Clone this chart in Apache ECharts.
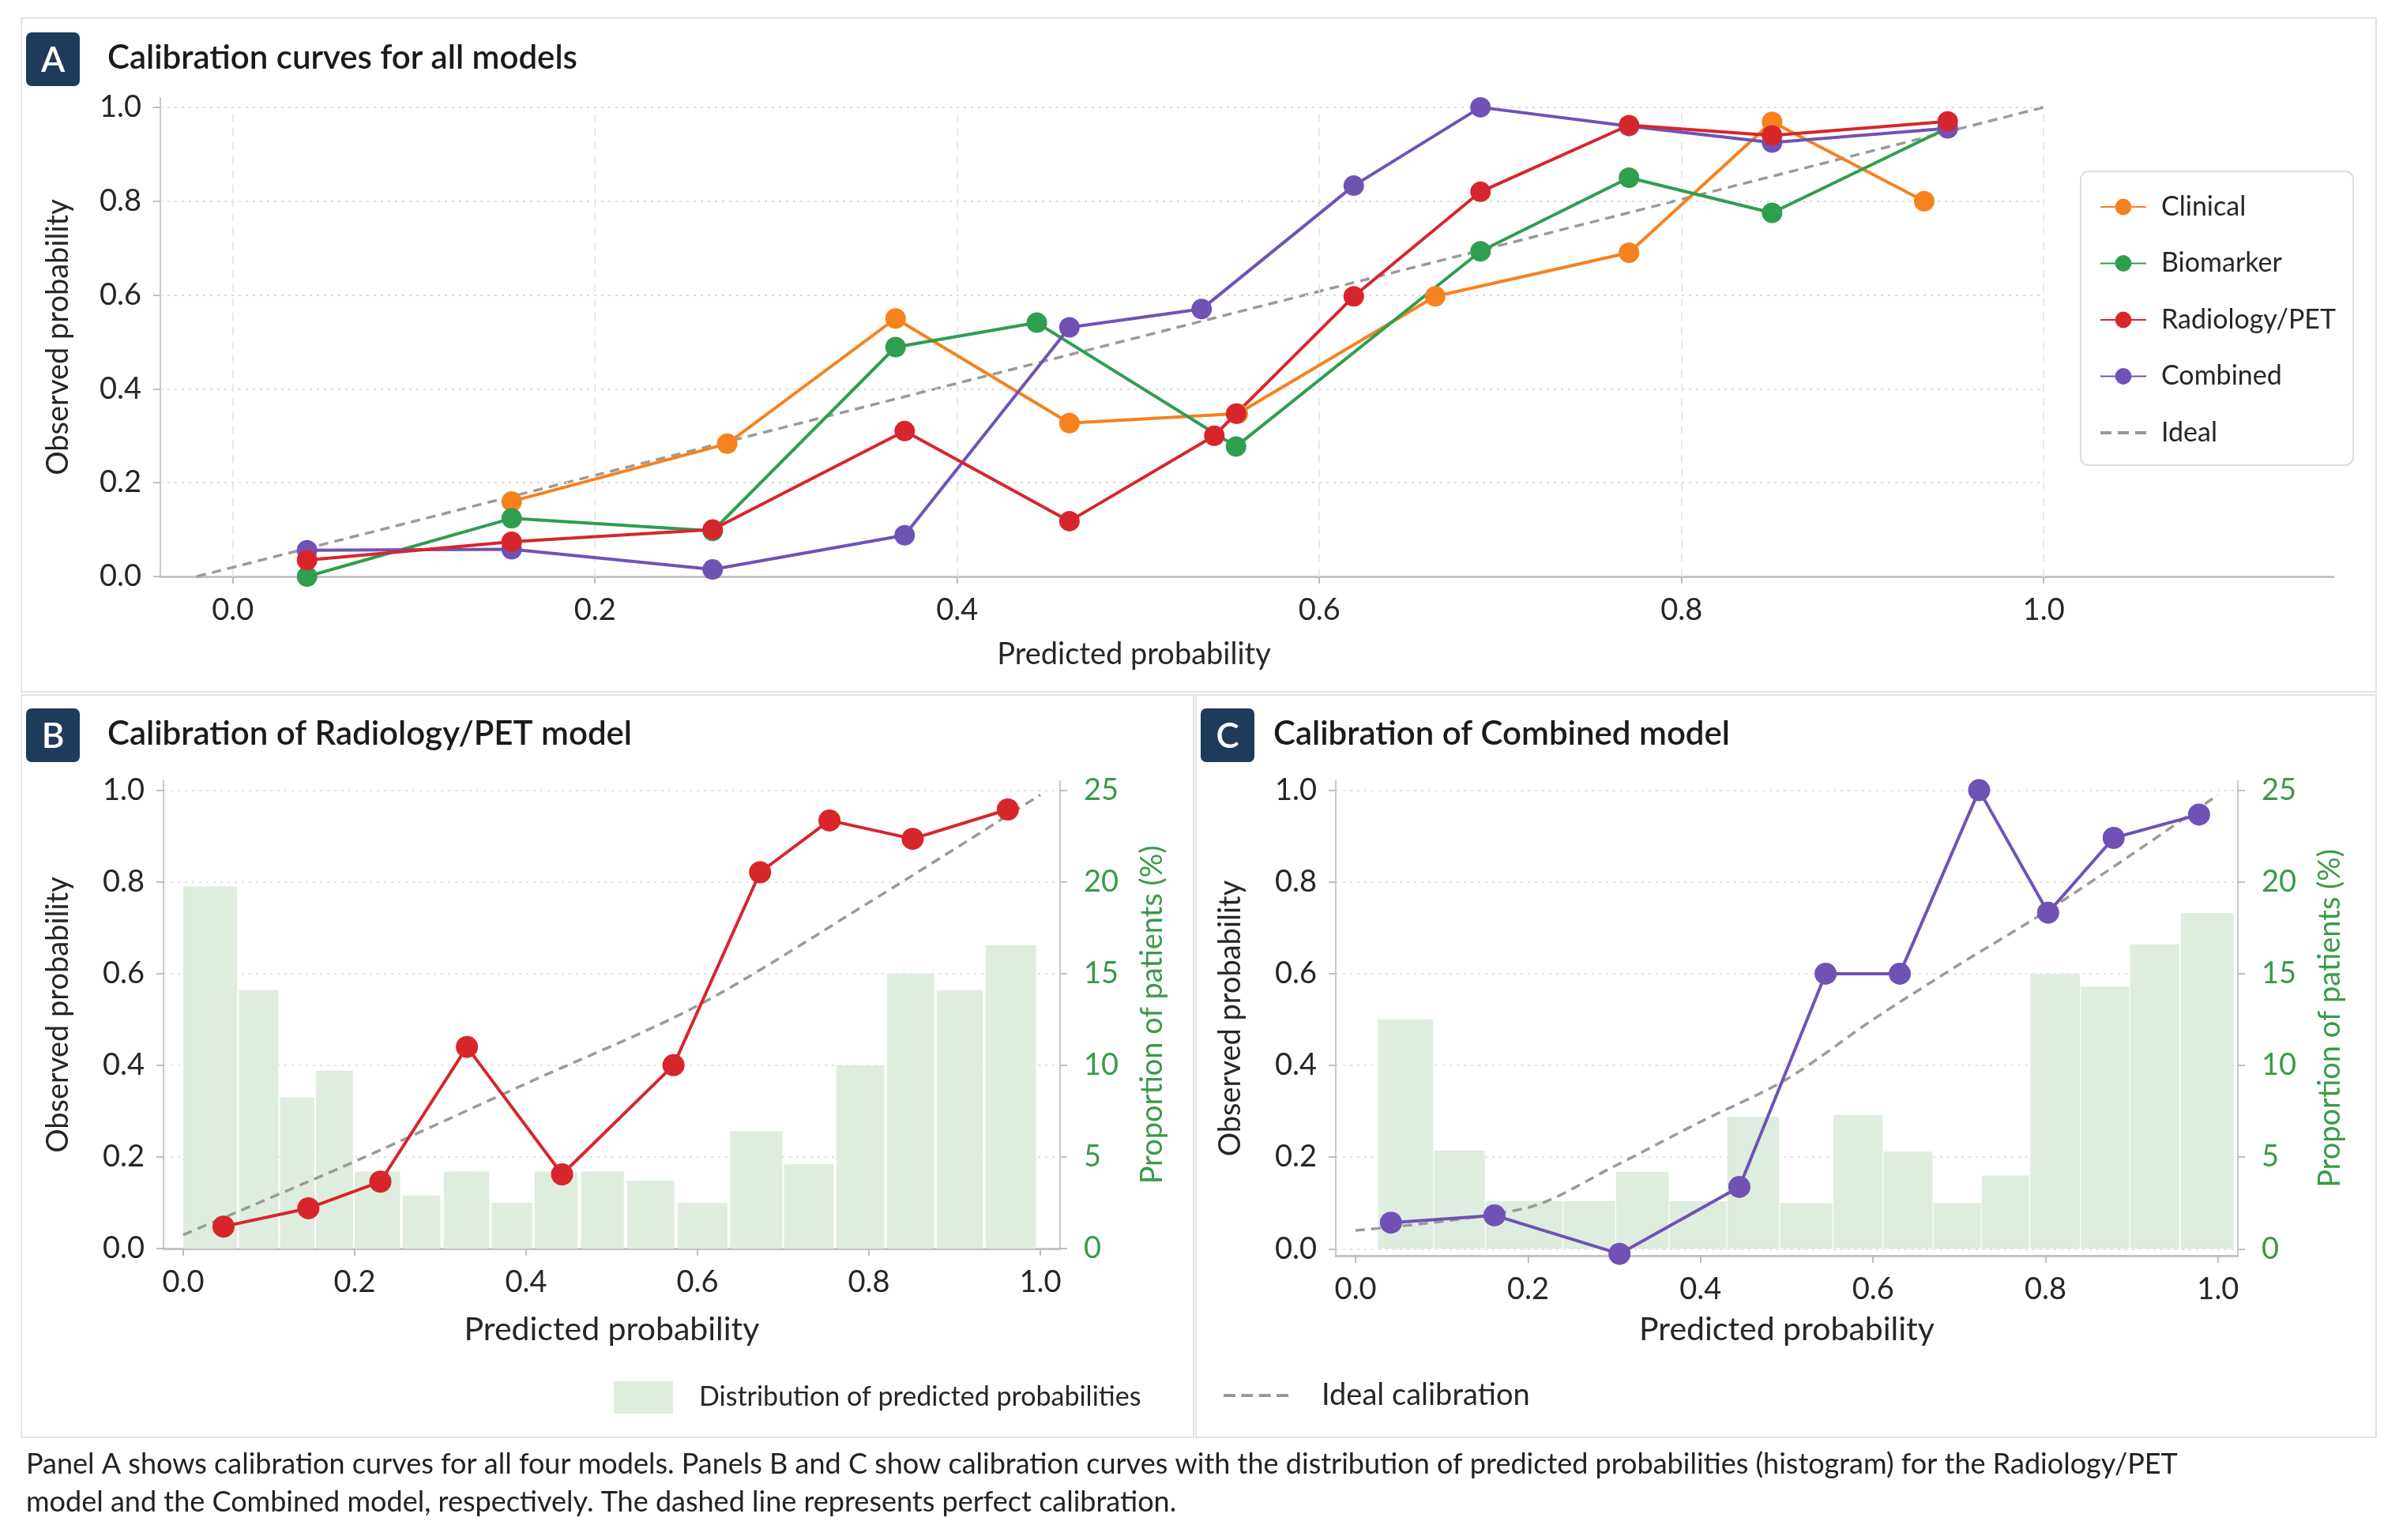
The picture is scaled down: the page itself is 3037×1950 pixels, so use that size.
<!DOCTYPE html>
<html>
<head>
<meta charset="utf-8">
<title>Calibration curves</title>
<script src="https://cdn.jsdelivr.net/npm/echarts@6.0.0/dist/echarts.min.js"></script>
<style>
  html, body { margin: 0; padding: 0; background: #fff; }
  #chart { width: 3037px; height: 1950px; }
</style>
</head>
<body>
<div id="chart"></div>
<script>
// tick labels
const xTicks = [0, 0.2, 0.4, 0.6, 0.8, 1.0];
const yTicks = [0, 0.2, 0.4, 0.6, 0.8, 1.0];
const pctTicks = [0, 5, 10, 15, 20, 25];

// panel A - all models
const clinicalX = [0.154, 0.273, 0.366, 0.462, 0.555, 0.664, 0.771, 0.850, 0.934];
const clinicalY = [0.160, 0.283, 0.550, 0.327, 0.347, 0.597, 0.690, 0.969, 0.800];
const biomarkerX = [0.041, 0.154, 0.265, 0.366, 0.444, 0.554, 0.689, 0.771, 0.850, 0.947];
const biomarkerY = [0.000, 0.124, 0.097, 0.489, 0.541, 0.277, 0.693, 0.850, 0.775, 0.956];
const radiologyX = [0.041, 0.154, 0.265, 0.371, 0.462, 0.542, 0.554, 0.619, 0.689, 0.771, 0.850, 0.947];
const radiologyY = [0.035, 0.074, 0.100, 0.310, 0.118, 0.300, 0.347, 0.597, 0.820, 0.962, 0.940, 0.970];
const combinedX = [0.041, 0.154, 0.265, 0.371, 0.462, 0.535, 0.619, 0.689, 0.771, 0.850, 0.947];
const combinedY = [0.056, 0.058, 0.015, 0.088, 0.531, 0.570, 0.833, 1.000, 0.960, 0.925, 0.955];
const idealAX = [-0.02, 1.0];
const idealAY = [0.0, 1.0];

// panel B - Radiology/PET
const radBX = [0.047, 0.146, 0.230, 0.331, 0.442, 0.572, 0.673, 0.754, 0.851, 0.962];
const radBY = [0.048, 0.088, 0.146, 0.440, 0.162, 0.400, 0.821, 0.934, 0.894, 0.958];
const idealBX = [0.0, 0.2, 0.4, 0.6, 0.8, 1.0];
const idealBY = [0.03, 0.19, 0.36, 0.53, 0.755, 0.99];
const binLeftB = [0.0, 0.065, 0.113, 0.155, 0.200, 0.256, 0.304, 0.360, 0.410, 0.464, 0.518, 0.577, 0.638, 0.701, 0.762, 0.821, 0.879, 0.936];
const binRightB = [0.063, 0.111, 0.153, 0.198, 0.253, 0.300, 0.357, 0.407, 0.460, 0.514, 0.573, 0.635, 0.699, 0.759, 0.818, 0.876, 0.933, 0.995];
const histB = [19.75, 14.1, 8.25, 9.7, 4.2, 2.9, 4.2, 2.5, 4.2, 4.2, 3.7, 2.5, 6.4, 4.6, 10.0, 15.0, 14.1, 16.55];

// panel C - Combined
const comCX = [0.041, 0.161, 0.306, 0.445, 0.545, 0.631, 0.723, 0.803, 0.879, 0.978];
const comCY = [0.057, 0.073, -0.011, 0.135, 0.600, 0.600, 1.000, 0.733, 0.896, 0.947];
const idealCX = [0.0, 0.2, 0.3, 0.4, 0.5, 0.6, 0.7, 0.8, 0.9, 1.0];
const idealCY = [0.04, 0.09, 0.18, 0.277, 0.37, 0.50, 0.62, 0.735, 0.86, 0.99];
const binLeftC = [0.026, 0.091, 0.151, 0.241, 0.302, 0.364, 0.431, 0.492, 0.554, 0.612, 0.670, 0.726, 0.782, 0.841, 0.898, 0.957];
const binRightC = [0.090, 0.150, 0.240, 0.301, 0.363, 0.430, 0.491, 0.553, 0.611, 0.669, 0.725, 0.781, 0.840, 0.897, 0.955, 1.018];
const histC = [12.5, 5.35, 2.6, 2.6, 4.2, 2.6, 7.2, 2.5, 7.3, 5.3, 2.5, 4.0, 15.0, 14.3, 16.6, 18.3];

const FONT = 'Lato, "Noto Sans", sans-serif';
const TXT = '#262626';
const GREEN_TXT = '#3a9a48';
const C_ORANGE = '#F5821F', C_GREEN = '#2E9E4F', C_RED = '#D7262B', C_PURPLE = '#7052B5';
const HIST = '#dfeddf';
const IDEAL = '#9a9a9a';
const NAVY = '#1f3b5c';

// dashed legend icons (the library would otherwise draw a dot on them)
const DASH3 = 'path://M0,0h14v4h-14z M22,0h14v4h-14z M44,0h14v4h-14z';
const DASH4 = 'path://M0,0h15v4h-15z M22.3,0h15v4h-15z M44.7,0h15v4h-15z M67,0h15v4h-15z';

const pairs = (xs, ys) => xs.map((x, i) => [x, ys[i]]);
const fmt1 = v => v.toFixed(1);

function curve(name, xs, ys, color, xi, yi, size) {
    return {
        name: name, type: 'line', xAxisIndex: xi, yAxisIndex: yi,
        data: pairs(xs, ys),
        symbol: 'circle', symbolSize: size,
        lineStyle: { color: color, width: 4 },
        itemStyle: { color: color },
        emphasis: { disabled: true },
        z: 5
    };
}

function idealLine(name, xs, ys, xi, yi, smooth) {
    return {
        name: name, type: 'line', xAxisIndex: xi, yAxisIndex: yi,
        data: pairs(xs, ys), symbol: 'none', smooth: smooth,
        lineStyle: { color: IDEAL, width: 3.5, type: [12, 8] },
        itemStyle: { color: IDEAL },
        emphasis: { disabled: true },
        z: 3
    };
}

function histogram(name, lefts, rights, vals, xi, yi) {
    return {
        name: name, type: 'custom', xAxisIndex: xi, yAxisIndex: yi,
        data: vals.map((v, i) => [lefts[i], rights[i], v]),
        encode: { x: [0, 1], y: 2 },
        itemStyle: { color: HIST },
        renderItem: function (params, api) {
            const a = api.coord([api.value(0), api.value(2)]);
            const b = api.coord([api.value(1), 0]);
            return {
                type: 'rect',
                shape: { x: a[0], y: a[1], width: b[0] - a[0], height: b[1] - a[1] },
                style: { fill: HIST }
            };
        },
        z: 1
    };
}

function xAxisCfg(grid, min, max, gap, nameSize, pad) {
    return {
        gridIndex: grid, type: 'value', min: min, max: max,
        axisLine: { show: true, onZero: false, lineStyle: { color: '#c4c4c4', width: 3 } },
        axisTick: { show: true, customValues: xTicks, length: 9, lineStyle: { color: '#bdbdbd', width: 2 } },
        axisLabel: { customValues: xTicks, formatter: fmt1, fontSize: 38, color: TXT, margin: 24, fontFamily: FONT },
        splitLine: { show: false },
        name: 'Predicted probability', nameLocation: 'middle', nameGap: gap,
        nameTextStyle: { fontSize: nameSize, color: TXT, fontFamily: FONT, padding: pad || 0 }
    };
}

function yAxisCfg(grid, min, max, gap, split) {
    return {
        gridIndex: grid, type: 'value', min: min, max: max,
        axisLine: { show: true, onZero: false, lineStyle: { color: '#c8c8c8', width: 2 } },
        axisTick: { show: true, customValues: yTicks, length: 9, lineStyle: { color: '#c0c0c0', width: 2 } },
        axisLabel: { customValues: yTicks, formatter: fmt1, fontSize: 38, color: TXT, margin: 24, fontFamily: FONT },
        splitLine: { show: split, lineStyle: { type: [3, 6], color: '#e3e3e3', width: 2 } },
        name: 'Observed probability', nameLocation: 'middle', nameGap: gap, nameRotate: 90,
        nameTextStyle: { fontSize: 38, color: TXT, fontFamily: FONT }
    };
}

function pctAxisCfg(grid, min, max) {
    return {
        gridIndex: grid, type: 'value', position: 'right', min: min, max: max,
        axisLine: { show: true, onZero: false, lineStyle: { color: '#c8c8c8', width: 2 } },
        axisTick: { show: true, customValues: pctTicks, length: 9, lineStyle: { color: '#c0c0c0', width: 2 } },
        axisLabel: { customValues: pctTicks, fontSize: 38, color: GREEN_TXT, margin: 30, fontFamily: FONT },
        splitLine: { show: false },
        name: 'Proportion of patients (%)', nameLocation: 'middle', nameGap: 98, nameRotate: 90,
        nameTextStyle: { fontSize: 38, color: GREEN_TXT, fontFamily: FONT }
    };
}

// light grid of panel A, kept inside the 0..1 square
const gridA = [];
yTicks.filter(v => v > 0).forEach(v => gridA.push([
    { coord: [-0.04, v], lineStyle: { type: [3, 6], color: '#dcdcdc', width: 2 } },
    { coord: [1.0, v] }
]));
xTicks.forEach(v => gridA.push([
    { coord: [v, 0], lineStyle: { type: [10, 8], color: '#e8e8e8', width: 2 } },
    { coord: [v, 1.0] }
]));

const idealA = idealLine('Ideal', idealAX, idealAY, 0, 0, false);
idealA.markLine = {
    silent: true, symbol: ['none', 'none'], label: { show: false },
    emphasis: { disabled: true }, animation: false, data: gridA
};

function badge(x, y, letter, title, titleGap) {
    return [
        { type: 'rect', x: x, y: y, shape: { width: 68, height: 68, r: 7 }, style: { fill: NAVY } },
        { type: 'text', x: x + 34, y: y + 36,
          style: { text: letter, fill: '#fff', font: '600 44px ' + FONT, align: 'center', verticalAlign: 'middle' } },
        { type: 'text', x: x + titleGap, y: y + 32,
          style: { text: title, fill: '#1a1a1a', font: '600 42px ' + FONT, verticalAlign: 'middle' } }
    ];
}

const caption = 'Panel A shows calibration curves for all four models. Panels B and C show calibration curves with the distribution of predicted probabilities (histogram) for the Radiology/PET\n' +
    'model and the Combined model, respectively. The dashed line represents perfect calibration.';

const chart = echarts.init(document.getElementById('chart'));
chart.setOption({
    animation: false,
    backgroundColor: '#ffffff',
    textStyle: { fontFamily: FONT },
    graphic: [
        { type: 'rect', x: 27, y: 23, shape: { width: 2981, height: 853 }, style: { fill: 'none', stroke: '#e2e2e2', lineWidth: 2 }, z: -10 },
        { type: 'rect', x: 27, y: 880, shape: { width: 1484, height: 940 }, style: { fill: 'none', stroke: '#e2e2e2', lineWidth: 2 }, z: -10 },
        { type: 'rect', x: 1514, y: 880, shape: { width: 1494, height: 940 }, style: { fill: 'none', stroke: '#e2e2e2', lineWidth: 2 }, z: -10 },
        ...badge(33, 41, 'A', 'Calibration curves for all models', 103),
        ...badge(33, 897, 'B', 'Calibration of Radiology/PET model', 103),
        ...badge(1520, 897, 'C', 'Calibration of Combined model', 92),
        { type: 'text', x: 33, y: 1830,
          style: { text: caption, fill: '#222', font: '36px ' + FONT, lineHeight: 48 } }
    ],
    legend: [
        {
            data: ['Clinical', 'Biomarker', 'Radiology/PET', 'Combined', { name: 'Ideal', icon: DASH3 }],
            orient: 'vertical', left: 2634, top: 217,
            itemWidth: 58, itemHeight: 26, itemGap: 37.5,
            padding: [28, 22, 24, 24],
            backgroundColor: '#fff', borderColor: '#dedede', borderWidth: 2, borderRadius: 10,
            textStyle: { fontSize: 34, lineHeight: 30, color: TXT, fontFamily: FONT, padding: [0, 0, 0, 14] },
            selectedMode: false
        },
        {
            data: [{ name: 'Distribution of predicted probabilities', icon: 'rect' }],
            left: 777, top: 1749, itemWidth: 75, itemHeight: 41, padding: 0,
            textStyle: { fontSize: 34, color: TXT, fontFamily: FONT, padding: [0, 0, 0, 28] },
            selectedMode: false
        },
        {
            data: [{ name: 'Ideal calibration', icon: DASH4 }],
            left: 1549, top: 1748, itemWidth: 82, itemHeight: 40, padding: 0,
            textStyle: { fontSize: 38, color: TXT, fontFamily: FONT, padding: [0, 0, 0, 37] },
            selectedMode: false
        }
    ],
    grid: [
        { left: 203, right: 83, top: 124, bottom: 1220 },
        { left: 207, right: 1695, top: 989, bottom: 369 },
        { left: 1691, right: 204, top: 989, bottom: 360 }
    ],
    xAxis: [
        xAxisCfg(0, -0.04, 1.16, 80, 38, [0, 286, 0, 0]),
        xAxisCfg(1, -0.023, 1.023, 82, 41),
        xAxisCfg(2, -0.023, 1.023, 73, 41)
    ],
    yAxis: [
        yAxisCfg(0, 0, 1.02, 110, false),
        yAxisCfg(1, 0, 1.02, 114, true),
        pctAxisCfg(1, 0, 25.5),
        yAxisCfg(2, -0.015, 1.02, 114, true),
        pctAxisCfg(2, -0.375, 25.5)
    ],
    series: [
        idealA,
        curve('Clinical', clinicalX, clinicalY, C_ORANGE, 0, 0, 26),
        curve('Biomarker', biomarkerX, biomarkerY, C_GREEN, 0, 0, 26),
        curve('Combined', combinedX, combinedY, C_PURPLE, 0, 0, 26),
        curve('Radiology/PET', radiologyX, radiologyY, C_RED, 0, 0, 26),

        histogram('Distribution of predicted probabilities', binLeftB, binRightB, histB, 1, 2),
        idealLine('Ideal calibration', idealBX, idealBY, 1, 1, 0.3),
        curve('Radiology/PET model', radBX, radBY, C_RED, 1, 1, 28),

        histogram('Distribution of predicted probabilities', binLeftC, binRightC, histC, 2, 4),
        idealLine('Ideal calibration', idealCX, idealCY, 2, 3, 0.3),
        curve('Combined model', comCX, comCY, C_PURPLE, 2, 3, 28)
    ]
});
</script>
</body>
</html>
